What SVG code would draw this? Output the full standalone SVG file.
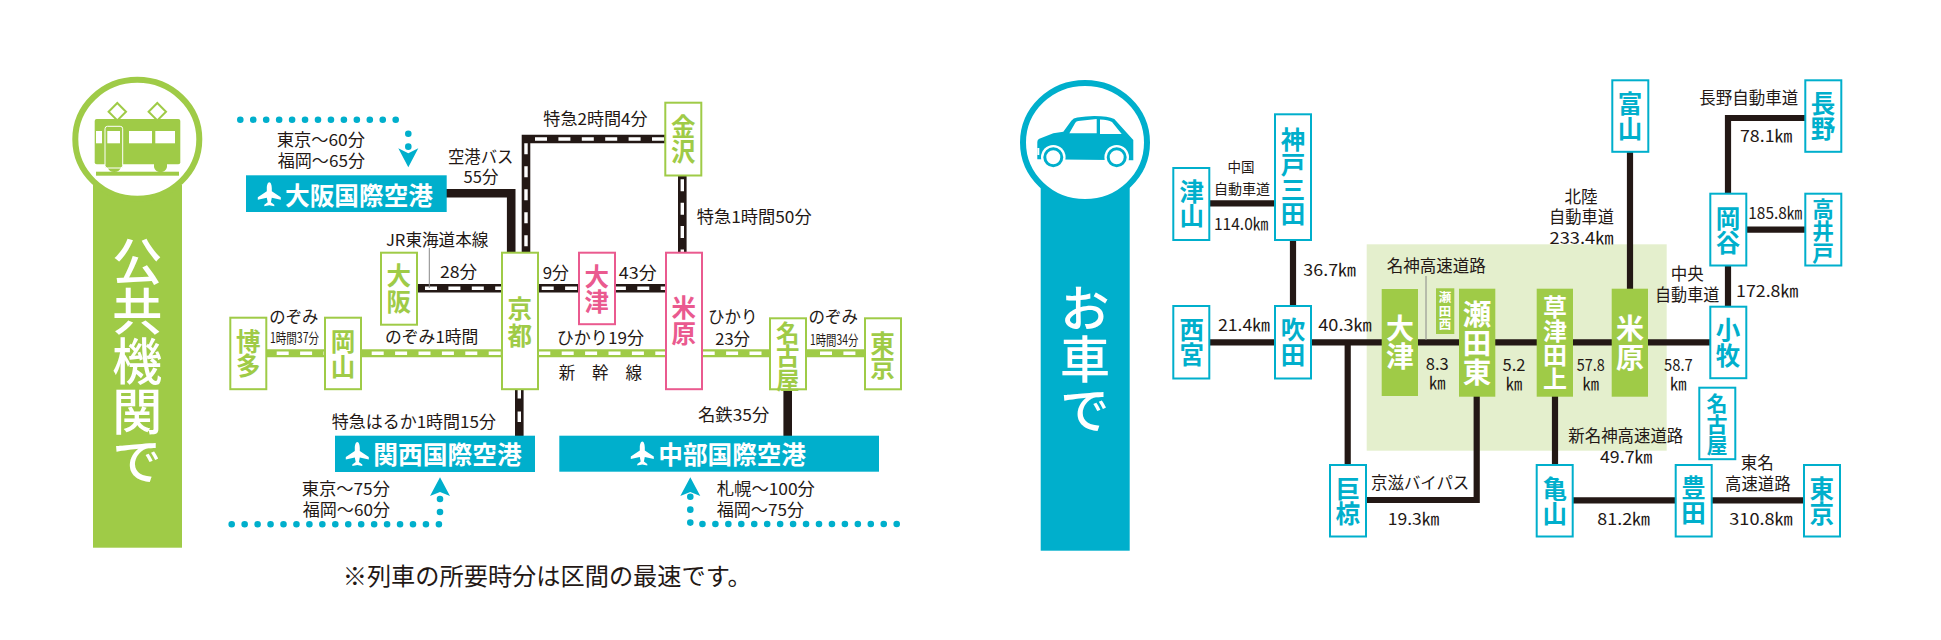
<svg xmlns="http://www.w3.org/2000/svg" xmlns:xlink="http://www.w3.org/1999/xlink" width="1941" height="640" viewBox="0 0 1941 640">
<style>
text{font-family:"Noto Sans CJK JP","Noto Sans",sans-serif;fill:#231815}
.l{font-size:16.5px}
.m{text-anchor:middle}
.nb{fill:#fff;stroke-width:2}
.g{stroke:#9fcb47}.p{stroke:#ea5a8f}.c{stroke:#00afcc}
.tg,.tp,.tc,.tw{font-size:24.5px;font-weight:700;writing-mode:vertical-rl}
.tg{fill:#9fcb47}.tp{fill:#ea5a8f}.tc{fill:#00afcc}.tw{fill:#fff}
.title{font-size:50px;font-weight:500;fill:#fff;writing-mode:vertical-rl}
.bar{font-size:24.7px;font-weight:700;fill:#fff}
.k{fill:none;stroke:#231815;stroke-width:6.2}
.rb{fill:none;stroke:#231815;stroke-width:8.6}
.rw{fill:none;stroke:#fff;stroke-width:3.4;stroke-dasharray:12 11.4}
.gb{fill:none;stroke:#9fcb47;stroke-width:8}
.dot{fill:none;stroke:#00afcc;stroke-width:6.6;stroke-linecap:round;stroke-dasharray:0 12.95}
.lead{fill:none;stroke:#888;stroke-width:1}
</style>
<defs>
<path id="plane" fill="#fff" d="M0-12C1.5-12 2.5-9 2.5-6V-3L11.5 3V5.500L2.500 3.500 1.600 8 5 10.500V12L0 11-5 12V10.500L-1.600 8-2.500 3.500-11.500 5.500V3L-2.500-3V-6C-2.500-9-1.500-12 0-12Z"/>
</defs>

<g id="zone">
<rect x="1366.700" y="244.300" width="300" height="206.400" fill="#e4efcd"/>
</g>

<g id="badge-train">
<rect x="93" y="185" width="89" height="362.700" fill="#9fcb47"/>
<ellipse cx="137.300" cy="139.300" rx="62" ry="59.500" fill="#fff" stroke="#9fcb47" stroke-width="6"/>
<path d="M117.300 103l8.700 8.700-8.700 8.700-8.700-8.700zM157.300 103l8.700 8.700-8.700 8.700-8.700-8.700z" fill="#fff" stroke="#9fcb47" stroke-width="2"/>
<rect x="94.700" y="119" width="85.600" height="45.300" rx="2" fill="#9fcb47"/>
<path d="M107.500 164h13.500v3c-1 3.500-3 5-6.700 5s-5.800-1.500-6.800-5zM154 164h13v3c-1 3.500-2.800 5-6.500 5s-5.500-1.500-6.500-5z" fill="#9fcb47"/>
<rect x="96" y="171.700" width="83" height="4" fill="#9fcb47"/>
<rect x="105" y="126.300" width="17.700" height="41.700" rx="2.500" fill="#9fcb47" stroke="#fff" stroke-width="1"/>
<rect x="107.300" y="131" width="12.700" height="12.300" fill="#fff"/>
<rect x="96" y="131" width="6" height="12.300" fill="#fff"/>
<rect x="129" y="131" width="23" height="12.300" fill="#fff"/>
<rect x="155.300" y="131" width="19.700" height="12.300" fill="#fff"/>
<text class="title" x="137.300" y="236">公共機関で</text>
</g>

<g id="badge-car">
<rect x="1040.700" y="185" width="89" height="365.700" fill="#00afcc"/>
<ellipse cx="1085" cy="142.500" rx="62" ry="59.500" fill="#fff" stroke="#00afcc" stroke-width="6"/>
<path d="M1037.300 159.300V142q0-2.500 2-3.200l14-5.500 10-1.600 8-11q2-2.700 6-3.200 9-1.500 17-1.500 14 0 20 3l19 21v20.300z" fill="#00afcc"/>
<path d="M1069.300 133.300l6-10.500q1-1.600 3-1.800l18.400-2v14.300zM1100 119.500q8 .3 12 2.500l9.700 12h-21.700z" fill="#fff"/>
<rect x="1037.300" y="148" width="2" height="7" fill="#fff"/>
<circle cx="1053.300" cy="157.300" r="12.300" fill="#fff"/><circle cx="1053.300" cy="157.300" r="8.500" fill="#fff" stroke="#00afcc" stroke-width="3"/>
<circle cx="1116.700" cy="157.300" r="12.300" fill="#fff"/><circle cx="1116.700" cy="157.300" r="8.500" fill="#fff" stroke="#00afcc" stroke-width="3"/>
<text class="title" x="1085" y="283.300" style="letter-spacing:.8px">お車で</text>
</g>

<g id="connectors">
<path class="dot" d="M240.300 119.700H408.400"/><path class="dot" d="M408.300 133.700V147"/>
<path fill="#00afcc" d="M398.300 148.300l10 5 10-5-10 19z"/>
<path class="dot" d="M231.700 524.300H440"/><path class="dot" d="M440 499V512"/>
<path fill="#00afcc" d="M430 496l10-18.700 10 18.700-10-4z"/>
<path class="dot" d="M896.700 524H701.600"/><path class="dot" d="M690.300 496.700V523.500"/>
<path fill="#00afcc" d="M680.300 496l10-18.700 10 18.700-10-4z"/>

<path class="rb" d="M446 193.300H511.200V252"/>
<path class="rb" d="M787.700 389V436"/>
<path class="rb" d="M526 252V139H665"/><path class="rw" d="M535 139H664"/><path class="rw" style="stroke-dasharray:11 12" d="M526 143.300V251"/>
<path class="rb" d="M682.300 176V252"/><path class="rw" d="M682.300 179.300V252"/>
<path class="rb" d="M417 288.300H502"/><path class="rw" d="M425 288.300H501"/>
<path class="rb" d="M538 288.300H666"/><path class="rw" d="M541.700 288.300H578"/><path class="rw" d="M613.900 288.300H665"/>
<path class="rb" d="M519.300 389V436"/><path class="rw" style="stroke-dasharray:10.500 13" d="M519.300 388V435"/>
<path class="lead" d="M429.300 248V288"/>

<path class="gb" d="M267 353.300H864"/>
<path class="rw" d="M276.700 353.300H324"/><path class="rw" d="M371.700 353.300H501"/><path class="rw" d="M538.300 353.300H665"/><path class="rw" d="M702.700 353.300H769"/><path class="rw" d="M820 353.300H864"/>

<path class="k" d="M1209 203.300H1275"/>
<path class="k" d="M1293 240V306"/>
<path class="k" d="M1209 342.300H1710"/>
<path class="k" d="M1347.700 342V465"/>
<path class="k" d="M1366 500H1476.700V396"/>
<path class="k" d="M1555 396V465"/>
<path class="k" d="M1573 500.300H1804"/>
<path class="k" d="M1630 152V289"/>
<path class="k" d="M1728 306V266M1728 193V118H1805"/>
<path class="k" d="M1746 229.700H1805"/>
<path class="lead" d="M1426 276V340"/>
</g>

<g id="airport-osaka"><rect x="246" y="175.300" width="200.700" height="36.700" fill="#00afcc"/><use xlink:href="#plane" href="#plane" x="269.300" y="194.300"/><text class="bar" x="285" y="204.500" textLength="148" lengthAdjust="spacingAndGlyphs">大阪国際空港</text></g>
<g id="airport-kansai"><rect x="335" y="435.700" width="200" height="36.300" fill="#00afcc"/><use xlink:href="#plane" href="#plane" x="357.300" y="454"/><text class="bar" x="373.300" y="464" textLength="148.400" lengthAdjust="spacingAndGlyphs">関西国際空港</text></g>
<g id="airport-chubu"><rect x="559.300" y="435.700" width="319.700" height="36" fill="#00afcc"/><use xlink:href="#plane" href="#plane" x="642.300" y="453.500"/><text class="bar" x="658.300" y="463.500" textLength="147.700" lengthAdjust="spacingAndGlyphs">中部国際空港</text></g>

<g id="n-osaka"><rect class="nb g" x="381" y="252.700" width="36" height="72"/><text class="tg" x="398.800" y="263.500" style="letter-spacing:1.500px">大阪</text></g>
<g id="n-kyoto"><rect class="nb g" x="502" y="252.700" width="36" height="136.500"/><text class="tg" x="519.700" y="296.800" style="letter-spacing:1.800px">京都</text></g>
<g id="n-hakata"><rect class="nb g" x="230.300" y="317.700" width="36" height="71.500"/><text class="tg" x="248.300" y="329.200">博多</text></g>
<g id="n-okayama"><rect class="nb g" x="325" y="317.700" width="36" height="71.500"/><text class="tg" x="343" y="329.800">岡山</text></g>
<g id="n-kanazawa"><rect class="nb g" x="665.300" y="102.700" width="36" height="72.800"/><text class="tg" x="683.300" y="114.500">金沢</text></g>
<g id="n-otsu"><rect class="nb p" x="579" y="252.700" width="36" height="71.500"/><text class="tp" x="596.800" y="264" style="letter-spacing:.5px">大津</text></g>
<g id="n-maibara"><rect class="nb p" x="666" y="252.700" width="36" height="136.500"/><text class="tp" x="683.700" y="295.800" style="letter-spacing:.8px">米原</text></g>
<g id="n-nagoya"><rect class="nb g" x="770" y="318.300" width="36" height="71"/><text class="tg" x="787.800" y="321.200" style="font-size:23.500px">名古屋</text></g>
<g id="n-tokyo"><rect class="nb g" x="865" y="318.300" width="36" height="71"/><text class="tg" x="882.500" y="331" style="letter-spacing:.2px">東京</text></g>

<g id="n2-tsuyama"><rect class="nb c" x="1173.300" y="168" width="36" height="72"/><text class="tc" x="1191.700" y="179">津山</text></g>
<g id="n2-kobesanda"><rect class="nb c" x="1275" y="114.300" width="36" height="125.700"/><text class="tc" x="1293" y="127.800" style="letter-spacing:.2px">神戸三田</text></g>
<g id="n2-nishinomiya"><rect class="nb c" x="1173.300" y="306" width="36" height="72.500"/><text class="tc" x="1191.700" y="317.800" style="letter-spacing:.5px">西宮</text></g>
<g id="n2-suita"><rect class="nb c" x="1275" y="306" width="36" height="72.500"/><text class="tc" x="1293" y="317.800" style="letter-spacing:.2px">吹田</text></g>
<g id="n2-ogura"><rect class="nb c" x="1330" y="465" width="36" height="71.500"/><text class="tc" x="1347.700" y="476" style="letter-spacing:.5px">巨椋</text></g>
<g id="n2-toyama"><rect class="nb c" x="1612.300" y="80.300" width="36" height="71.500"/><text class="tc" x="1630" y="91.500">富山</text></g>
<g id="n2-nagano"><rect class="nb c" x="1805.300" y="80.300" width="36" height="71.500"/><text class="tc" x="1823" y="91" style="letter-spacing:.5px">長野</text></g>
<g id="n2-okaya"><rect class="nb c" x="1710.300" y="193.700" width="36" height="71.800"/><text class="tc" x="1728" y="206" style="letter-spacing:.2px">岡谷</text></g>
<g id="n2-takaido"><rect class="nb c" x="1805.300" y="193.700" width="36" height="71.800"/><text class="tc" x="1823" y="198.400" style="font-size:21.700px">高井戸</text></g>
<g id="n2-komaki"><rect class="nb c" x="1710.300" y="306.700" width="36" height="71.500"/><text class="tc" x="1728" y="317.800" style="letter-spacing:.8px">小牧</text></g>
<g id="n2-nagoya"><rect class="nb c" x="1699.300" y="387.700" width="36" height="71.500"/><text class="tc" x="1717" y="392.200" style="font-size:21px">名古屋</text></g>
<g id="n2-kameyama"><rect class="nb c" x="1536.700" y="465" width="36" height="71.500"/><text class="tc" x="1554.700" y="476" style="letter-spacing:.5px">亀山</text></g>
<g id="n2-toyota"><rect class="nb c" x="1675.700" y="465" width="36" height="71.500"/><text class="tc" x="1693.500" y="475.800">豊田</text></g>
<g id="n2-tokyo"><rect class="nb c" x="1804" y="465" width="36" height="71.500"/><text class="tc" x="1821.700" y="476" style="letter-spacing:.5px">東京</text></g>

<g id="i-otsu"><rect x="1381.700" y="289" width="36.300" height="107" fill="#9fcb47"/><text class="tw" x="1400" y="314.300" style="font-size:28px;letter-spacing:.4px">大津</text></g>
<g id="i-setanishi"><rect x="1436" y="288.300" width="18.300" height="45.700" fill="#9fcb47"/><text class="tw" x="1445" y="291.400" style="font-size:12.500px;letter-spacing:.8px">瀬田西</text></g>
<g id="i-setahigashi"><rect x="1459" y="288.700" width="36.300" height="108" fill="#9fcb47"/><text class="tw" x="1477" y="299.500" style="font-size:28.500px;letter-spacing:.5px">瀬田東</text></g>
<g id="i-kusatsutanakami"><rect x="1536.700" y="288.700" width="36.300" height="108" fill="#9fcb47"/><text class="tw" x="1555" y="294.700" style="font-size:24px">草津田上</text></g>
<g id="i-maibara"><rect x="1611.700" y="288.700" width="36.300" height="108" fill="#9fcb47"/><text class="tw" x="1630" y="314.300" style="font-size:28px;letter-spacing:.7px">米原</text></g>

<g id="labels">
<text class="l" x="276.700" y="146" textLength="88.300" lengthAdjust="spacingAndGlyphs">東京～60分</text>
<text class="l" x="277.700" y="166.700" textLength="87.300" lengthAdjust="spacingAndGlyphs">福岡～65分</text>
<text class="l" x="448" y="163.300" textLength="65.300" lengthAdjust="spacingAndGlyphs">空港バス</text>
<text class="l m" x="481" y="183.300">55分</text>
<text class="l" x="543.300" y="125" textLength="104.400" lengthAdjust="spacingAndGlyphs">特急2時間4分</text>
<text class="l" x="696.700" y="223.300" textLength="115" lengthAdjust="spacingAndGlyphs">特急1時間50分</text>
<text class="l" x="386" y="246" textLength="102.300" lengthAdjust="spacingAndGlyphs">JR東海道本線</text>
<text class="l" x="440" y="278.300" textLength="37.300" lengthAdjust="spacingAndGlyphs">28分</text>
<text class="l" x="542.700" y="279" textLength="26.300" lengthAdjust="spacingAndGlyphs">9分</text>
<text class="l" x="618.700" y="279" textLength="38" lengthAdjust="spacingAndGlyphs">43分</text>
<text class="l" x="269.300" y="322.700" textLength="49" lengthAdjust="spacingAndGlyphs">のぞみ</text>
<text class="l" x="270" y="343.300" textLength="49" lengthAdjust="spacingAndGlyphs" style="font-size:14px">1時間37分</text>
<text class="l" x="385" y="343.300" textLength="93.300" lengthAdjust="spacingAndGlyphs">のぞみ1時間</text>
<text class="l" x="556.700" y="344.300" textLength="87.300" lengthAdjust="spacingAndGlyphs">ひかり19分</text>
<text class="l m" x="567" y="379">新</text><text class="l m" x="600.300" y="379">幹</text><text class="l m" x="633.700" y="379">線</text>
<text class="l m" x="732.700" y="323.300">ひかり</text>
<text class="l m" x="732.700" y="345">23分</text>
<text class="l m" x="833.300" y="323.300">のぞみ</text>
<text class="l" x="810" y="345" textLength="48.300" lengthAdjust="spacingAndGlyphs" style="font-size:14px">1時間34分</text>
<text class="l" x="698" y="420.700" textLength="71.300" lengthAdjust="spacingAndGlyphs">名鉄35分</text>
<text class="l" x="331.700" y="428.300" textLength="164.300" lengthAdjust="spacingAndGlyphs">特急はるか1時間15分</text>
<text class="l" x="301.700" y="495" textLength="88.300" lengthAdjust="spacingAndGlyphs">東京～75分</text>
<text class="l" x="302.700" y="515.700" textLength="87.300" lengthAdjust="spacingAndGlyphs">福岡～60分</text>
<text class="l" x="716.700" y="495" textLength="98.300" lengthAdjust="spacingAndGlyphs">札幌～100分</text>
<text class="l" x="716.700" y="515.700" textLength="87.300" lengthAdjust="spacingAndGlyphs">福岡～75分</text>
<text x="342.700" y="585" font-size="24" textLength="409" lengthAdjust="spacingAndGlyphs">※列車の所要時分は区間の最速です。</text>

<text class="m" x="1241" y="172.300" font-size="13.500">中国</text>
<text class="m" x="1242" y="194.300" font-size="14">自動車道</text>
<text class="l" x="1214" y="230" textLength="54.300" lengthAdjust="spacingAndGlyphs">114.0㎞</text>
<text class="l" x="1303.300" y="275.700" textLength="52.700" lengthAdjust="spacingAndGlyphs">36.7㎞</text>
<text class="l" x="1218" y="330.700" textLength="52" lengthAdjust="spacingAndGlyphs">21.4㎞</text>
<text class="l" x="1318.300" y="330.700" textLength="53.400" lengthAdjust="spacingAndGlyphs">40.3㎞</text>
<text class="l" x="1386.700" y="272.300" textLength="99" lengthAdjust="spacingAndGlyphs">名神高速道路</text>
<text class="l m" x="1437.300" y="370">8.3</text><text class="l m" x="1437.300" y="389.300">㎞</text>
<text class="l m" x="1514" y="370.700">5.2</text><text class="l m" x="1514" y="390">㎞</text>
<text class="l" x="1576.700" y="370.700" textLength="28" lengthAdjust="spacingAndGlyphs">57.8</text><text class="l m" x="1590.700" y="390">㎞</text>
<text class="l" x="1664" y="370.700" textLength="28.700" lengthAdjust="spacingAndGlyphs">58.7</text><text class="l m" x="1678.300" y="390">㎞</text>
<text class="l" x="1371" y="489.300" textLength="98.300" lengthAdjust="spacingAndGlyphs">京滋バイパス</text>
<text class="l" x="1387.700" y="525" textLength="51.600" lengthAdjust="spacingAndGlyphs">19.3㎞</text>
<text class="l m" x="1581" y="202.700">北陸</text>
<text class="l" x="1549" y="223.300" textLength="65" lengthAdjust="spacingAndGlyphs">自動車道</text>
<text class="l" x="1549.500" y="244" textLength="64" lengthAdjust="spacingAndGlyphs">233.4㎞</text>
<text class="l" x="1699.300" y="104.300" textLength="99" lengthAdjust="spacingAndGlyphs">長野自動車道</text>
<text class="l" x="1740" y="141.700" textLength="52.300" lengthAdjust="spacingAndGlyphs">78.1㎞</text>
<text class="l" x="1748.300" y="219" textLength="54" lengthAdjust="spacingAndGlyphs">185.8㎞</text>
<text class="l m" x="1687.300" y="280">中央</text>
<text class="l" x="1655" y="301" textLength="64.300" lengthAdjust="spacingAndGlyphs">自動車道</text>
<text class="l" x="1736" y="297.300" textLength="62.300" lengthAdjust="spacingAndGlyphs">172.8㎞</text>
<text class="l" x="1568.300" y="442.300" textLength="115" lengthAdjust="spacingAndGlyphs">新名神高速道路</text>
<text class="l" x="1600" y="463.300" textLength="52.300" lengthAdjust="spacingAndGlyphs">49.7㎞</text>
<text class="l" x="1597.300" y="525" textLength="52.700" lengthAdjust="spacingAndGlyphs">81.2㎞</text>
<text class="l m" x="1757.300" y="469">東名</text>
<text class="l" x="1725" y="490" textLength="65.700" lengthAdjust="spacingAndGlyphs">高速道路</text>
<text class="l" x="1729.300" y="525" textLength="63.400" lengthAdjust="spacingAndGlyphs">310.8㎞</text>
</g>
</svg>
